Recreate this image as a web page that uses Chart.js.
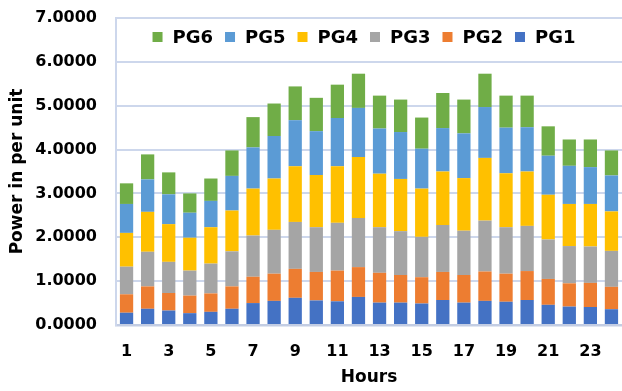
<!DOCTYPE html>
<html>
<head>
<meta charset="utf-8">
<script src="https://cdn.jsdelivr.net/npm/chart.js@4.4.1/dist/chart.umd.min.js"></script>
<style>
  html, body { margin: 0; padding: 0; background: #ffffff; overflow: hidden; }
  #wrap { width: 622px; height: 391px; }
</style>
</head>
<body>
<div id="wrap"><canvas id="chart" width="622" height="391"></canvas></div>
<script>
// Hourly generator output, per unit
const hours = [1, 2, 3, 4, 5, 6, 7, 8, 9, 10, 11, 12, 13, 14, 15, 16, 17, 18, 19, 20, 21, 22, 23, 24];
const pg1 = [0.28, 0.37, 0.33, 0.27, 0.30, 0.37, 0.50, 0.55, 0.62, 0.56, 0.54, 0.64, 0.51, 0.51, 0.49, 0.57, 0.51, 0.55, 0.53, 0.57, 0.46, 0.42, 0.41, 0.36];
const pg2 = [0.42, 0.51, 0.40, 0.40, 0.42, 0.51, 0.60, 0.62, 0.66, 0.65, 0.70, 0.68, 0.68, 0.63, 0.60, 0.64, 0.63, 0.67, 0.64, 0.66, 0.59, 0.53, 0.55, 0.51];
const pg3 = [0.63, 0.79, 0.71, 0.57, 0.68, 0.80, 0.94, 1.00, 1.07, 1.02, 1.09, 1.12, 1.04, 1.00, 0.92, 1.07, 1.01, 1.16, 1.06, 1.03, 0.90, 0.85, 0.83, 0.82];
const pg4 = [0.77, 0.91, 0.86, 0.75, 0.83, 0.93, 1.07, 1.17, 1.27, 1.19, 1.29, 1.39, 1.22, 1.19, 1.10, 1.22, 1.20, 1.43, 1.23, 1.24, 1.02, 0.96, 0.97, 0.90];
const pg5 = [0.66, 0.74, 0.68, 0.57, 0.60, 0.79, 0.94, 0.97, 1.05, 1.00, 1.10, 1.12, 1.03, 1.07, 0.91, 0.99, 1.02, 1.16, 1.04, 1.01, 0.89, 0.87, 0.84, 0.82];
const pg6 = [0.47, 0.57, 0.50, 0.44, 0.51, 0.58, 0.69, 0.74, 0.77, 0.76, 0.76, 0.78, 0.75, 0.74, 0.71, 0.80, 0.77, 0.76, 0.73, 0.72, 0.67, 0.60, 0.63, 0.57];
const seriesNames = ['PG1', 'PG2', 'PG3', 'PG4', 'PG5', 'PG6'];
const yTickValues = [0, 1, 2, 3, 4, 5, 6, 7];

const FONT = '"DejaVu Sans", "Liberation Sans", sans-serif';
const colors = ['#4472C4', '#ED7D31', '#A5A5A5', '#FFC000', '#5B9BD5', '#70AD47'];
const values = [pg1, pg2, pg3, pg4, pg5, pg6];

// Legend drawn inside the plot, top series listed first
const innerLegend = {
  id: 'innerLegend',
  afterDraw(chart) {
    const ctx = chart.ctx;
    const area = chart.chartArea;
    const items = chart.data.datasets.slice().reverse();
    const box = 10, textGap = 10, itemGap = 12;
    ctx.save();
    ctx.font = 'bold 18px ' + FONT;
    ctx.textBaseline = 'middle';
    ctx.textAlign = 'left';
    const widths = items.map(d => box + textGap + ctx.measureText(d.label).width);
    const total = widths.reduce((a, b) => a + b, 0) + itemGap * (items.length - 1);
    let x = (area.left + area.right) / 2 - 5 - total / 2;
    const cy = area.top + 19;
    items.forEach((d, i) => {
      ctx.fillStyle = d.backgroundColor;
      ctx.fillRect(x, cy - box / 2, box, box);
      ctx.fillStyle = '#000000';
      ctx.fillText(d.label, x + box + textGap, cy + 1);
      x += widths[i] + itemGap;
    });
    ctx.restore();
  }
};

new Chart(document.getElementById('chart'), {
  type: 'bar',
  data: {
    labels: hours,
    datasets: seriesNames.map((name, i) => ({
      label: name,
      data: values[i],
      backgroundColor: colors[i],
      borderWidth: 0,
      barPercentage: 0.63,
      categoryPercentage: 1.0
    }))
  },
  options: {
    responsive: false,
    animation: false,
    devicePixelRatio: 1,
    layout: { padding: { top: 18, right: 0, bottom: 0, left: 0 } },
    plugins: { legend: { display: false }, tooltip: { enabled: false } },
    scales: {
      x: {
        stacked: true,
        grid: { display: false, drawTicks: false },
        border: { display: true, color: '#C3CDE3', width: 2.5 },
        ticks: {
          autoSkip: false, maxRotation: 0, padding: 17, color: '#000000',
          font: { family: FONT, size: 16, weight: 'bold' },
          callback: (v, i) => (i % 2 === 0 ? String(hours[i]) : '')
        },
        title: { display: true, text: 'Hours', color: '#000000', font: { family: FONT, size: 17, weight: 'bold' }, padding: { top: 0, bottom: 3 } },
        afterFit: s => { s.height = 66; s.paddingLeft = 0; s.paddingRight = 0; }
      },
      y: {
        stacked: true, min: 0, max: 7,
        afterBuildTicks: s => { s.ticks = yTickValues.map(v => ({ value: v })); },
        grid: { color: '#CDD7EC', lineWidth: 2, drawTicks: false },
        border: { display: true, color: '#CDD7EC', width: 2 },
        ticks: { padding: 19, color: '#000000', font: { family: FONT, size: 16, weight: 'bold' }, callback: v => Number(v).toFixed(4) },
        title: { display: true, text: 'Power in per unit', color: '#000000', font: { family: FONT, size: 17, weight: 'bold' }, padding: { top: 7, bottom: 0 } },
        afterFit: s => { s.width = 116; s.paddingTop = 0; s.paddingBottom = 0; }
      }
    }
  },
  plugins: [innerLegend]
});
</script>
</body>
</html>
